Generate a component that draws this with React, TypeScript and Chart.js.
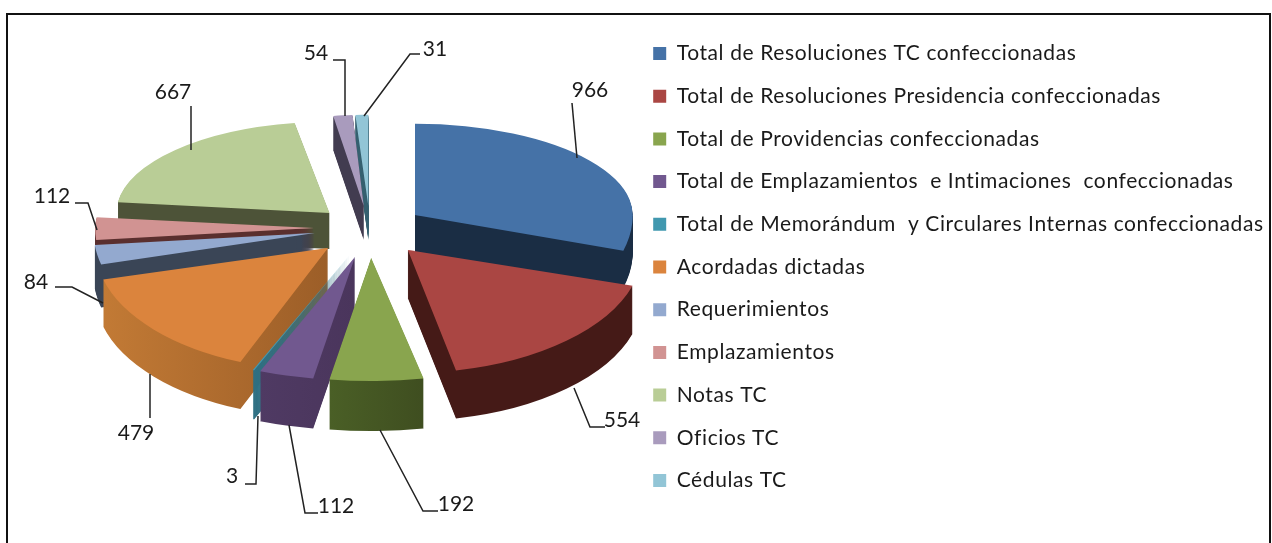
import React, { useEffect, useRef } from "react";
import { Chart, registerables } from "chart.js";

Chart.register(...registerables);

const categories = [
  "Total de Resoluciones TC confeccionadas",
  "Total de Resoluciones Presidencia confeccionadas",
  "Total de Providencias confeccionadas",
  "Total de Emplazamientos  e Intimaciones  confeccionadas",
  "Total de Memorándum  y Circulares Internas confeccionadas",
  "Acordadas dictadas",
  "Requerimientos",
  "Emplazamientos",
  "Notas TC",
  "Oficios TC",
  "Cédulas TC",
];
const values = [966, 554, 192, 112, 3, 479, 84, 112, 667, 54, 31];
const topColors = ["#4572A7", "#AA4643", "#89A54E", "#71588F", "#4198AF", "#DB843D", "#93A9CF", "#D19392", "#B9CD96", "#A99BBD", "#92C5D6"];
const wallLeft = ["#1a2d44", "#451a17", "#4a5f26", "#4f3a63", "#2d6f82", "#c27a35", "#3a4556", "#5a2f2e", "#4d5338", "#423c50", "#35606f"];
const wallRight = ["#1a2d44", "#451a17", "#3f4e20", "#4a355c", "#2d6f82", "#9c5e28", "#3a4556", "#5a2f2e", "#4d5338", "#423c50", "#35606f"];
// perspective: how wide each slice appears compared with the nominal radius
const widthScale = [0.955, 1.03, 1.12, 1.12, 1.12, 1.02, 0.97, 0.96, 0.935, 0.82, 0.95];

const RADIUS = 228;
const EXPLODE = 56;
const CENTER_X = 370;
const CENTER_Y = 228;
const K_BACK = 0.4;
const K_FRONT = 0.54;
const DEPTH_BACK = 34;
const DEPTH_FRONT = 50;

// [text x (centre), text y (centre), leader points...]
const labelLayout: number[][] = [
  [590, 90, 572, 103, 577, 158],
  [622, 420, 605, 427, 590, 427, 574, 388],
  [456, 504, 438, 511, 423, 511, 380, 430],
  [336, 506, 318, 513, 305, 513, 289, 425],
  [232, 476, 245, 484, 256, 484, 258, 416],
  [136, 433, 150, 418, 150, 374],
  [36, 282, 55, 287, 72, 287, 103, 303],
  [52, 196, 75, 203, 88, 203, 97, 230],
  [173, 92, 191, 106, 191, 150],
  [316, 53, 333, 60, 345, 60, 345, 116],
  [435, 49, 420, 54, 410, 54, 364, 116],
];

const pie3d = {
  id: "pie3d",
  beforeUpdate(chart: any) {
    (chart.ctx as any).letterSpacing = "0.6px";
  },
  beforeDatasetsDraw(chart: any) {
    const ctx: CanvasRenderingContext2D = chart.ctx;
    const arcs: any[] = chart.getDatasetMeta(0).data;
    const mid = (a: any) => (a.startAngle + a.endAngle) / 2;
    const order = arcs.map((_, i) => i).sort((p, q) => Math.sin(mid(arcs[p])) - Math.sin(mid(arcs[q])));
    const W = chart.width;
    const H = chart.height;
    for (const i of order) {
      const arc = arcs[i];
      const m = mid(arc);
      const ux = Math.cos(m);
      const uy = Math.sin(m);
      const sx = CENTER_X + ux * EXPLODE;
      const sy = Math.round(CENTER_Y + uy * EXPLODE * (uy > 0 ? K_FRONT : K_BACK));
      const depth = Math.round(DEPTH_BACK + ((uy + 1) / 2) * (DEPTH_FRONT - DEPTH_BACK));
      const original = arc.options;
      const paint = (d: number, fill: any) => {
        arc.options = { ...original, backgroundColor: fill, borderWidth: 0 };
        const bands: [number, number, number][] = [
          [-10, sy + d + 0.5 + 10, K_BACK],
          [sy + d, H - sy - d + 10, K_FRONT],
        ];
        for (const [top, height, k] of bands) {
          ctx.save();
          ctx.beginPath();
          ctx.rect(0, top, W, height);
          ctx.clip();
          ctx.translate(sx, sy + d);
          ctx.scale(widthScale[i], k);
          ctx.translate(-arc.x, -arc.y);
          arc.draw(ctx);
          ctx.restore();
        }
      };
      let lo = 0;
      let hi = 0;
      const steps = 24;
      for (let s = 0; s <= steps; s++) {
        const v = Math.cos(arc.startAngle + ((arc.endAngle - arc.startAngle) * s) / steps) * RADIUS;
        lo = Math.min(lo, v);
        hi = Math.max(hi, v);
      }
      const grad = ctx.createLinearGradient(arc.x + lo, 0, arc.x + Math.max(hi, lo + 1), 0);
      grad.addColorStop(0, wallLeft[i]);
      grad.addColorStop(1, wallRight[i]);
      for (let d = depth; d >= 1; d--) paint(d, grad);
      paint(0, original.backgroundColor);
      arc.options = original;
    }
    return false;
  },
  afterDraw(chart: any) {
    const ctx: CanvasRenderingContext2D = chart.ctx;
    ctx.save();
    (ctx as any).letterSpacing = "0px";
    ctx.font = "21px Lato";
    ctx.textAlign = "center";
    ctx.textBaseline = "middle";
    labelLayout.forEach((l, i) => {
      ctx.fillStyle = "#1a1a1a";
      ctx.fillText(String(values[i]), l[0], l[1]);
      ctx.beginPath();
      ctx.strokeStyle = "#222222";
      ctx.lineWidth = 1.5;
      ctx.moveTo(l[2], l[3]);
      for (let p = 4; p < l.length; p += 2) ctx.lineTo(l[p], l[p + 1]);
      ctx.stroke();
    });
    ctx.restore();
  },
};

export default function App() {
  const ref = useRef<HTMLCanvasElement>(null);
  useEffect(() => {
    const chart = new Chart(ref.current as HTMLCanvasElement, {
      type: "pie",
      data: {
        labels: categories,
        datasets: [{ data: values, backgroundColor: topColors, borderWidth: 0, clip: false } as any],
      },
      options: {
        animation: false,
        responsive: false,
        radius: RADIUS,
        layout: { padding: { right: 9, bottom: 9 } },
        plugins: {
          tooltip: { enabled: false },
          legend: {
            position: "right",
            labels: {
              color: "#1a1a1a",
              font: { family: "Lato", size: 21 },
              boxWidth: 13,
              boxHeight: 13,
              padding: 21.7,
            },
          },
        },
      } as any,
      plugins: [pie3d],
    });
    return () => chart.destroy();
  }, []);
  return (
    <div style={{ position: "fixed", left: 0, top: 0, width: 1272, height: 543, overflow: "hidden", background: "#fff" }}>
      <canvas ref={ref} width={1272} height={543} style={{ position: "absolute", left: 0, top: 0, display: "block" }} />
      <div style={{ position: "absolute", left: 6, top: 13, width: 1261, height: 600, border: "2px solid #111" }} />
    </div>
  );
}
